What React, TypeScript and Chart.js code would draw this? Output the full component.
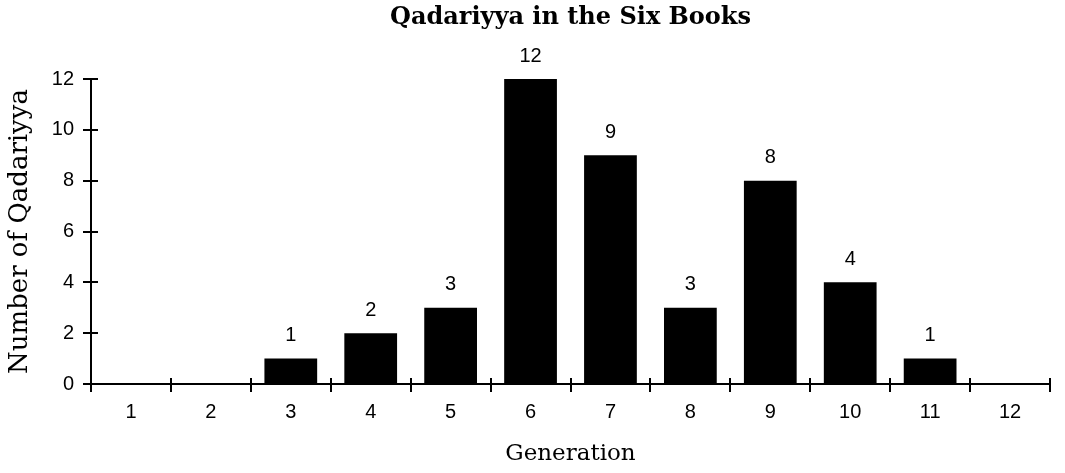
import { useEffect, useRef } from "react";
import { Chart, registerables } from "chart.js";

Chart.register(...registerables);

const generations = ["1", "2", "3", "4", "5", "6", "7", "8", "9", "10", "11", "12"];
const qadariyyaCounts = [0, 0, 1, 2, 3, 12, 9, 3, 8, 4, 1, 0];
const yMin = 0;
const yMax = 12;
const yStep = 2;
const chartTitle = "Qadariyya in the Six Books";
const xAxisTitle = "Generation";
const yAxisTitle = "Number of Qadariyya";

const SANS = "'Liberation Sans', Arial, Helvetica, sans-serif";
const SERIF = "'DejaVu Serif', 'Liberation Serif', serif";

const decorPlugin = {
  id: "decor",
  afterDraw(chart: any) {
    const ctx = chart.ctx;
    const ys = chart.scales.y;
    const area = chart.chartArea;
    ctx.save();
    ctx.strokeStyle = "#000";
    ctx.lineWidth = 2;
    // inward tick marks on y axis
    ys.ticks.forEach((t: any) => {
      const py = Math.round(ys.getPixelForValue(t.value));
      ctx.beginPath();
      ctx.moveTo(area.left, py);
      ctx.lineTo(area.left + 7, py);
      ctx.stroke();
    });
    // inward tick marks on x axis at category boundaries
    const n = generations.length;
    const w = (area.right - area.left) / n;
    for (let i = 0; i <= n; i++) {
      const px = Math.round(area.left + i * w);
      ctx.beginPath();
      ctx.moveTo(px, area.bottom);
      ctx.lineTo(px, area.bottom - 6);
      ctx.stroke();
    }
    // title centred over the plot area
    ctx.fillStyle = "#000";
    ctx.font = `bold 24px ${SERIF}`;
    ctx.textAlign = "center";
    ctx.textBaseline = "middle";
    ctx.fillText(chartTitle, (area.left + area.right) / 2, 18);
    // value labels
    const meta = chart.getDatasetMeta(0);
    ctx.font = `20px ${SANS}`;
    meta.data.forEach((bar: any, i: number) => {
      const v = qadariyyaCounts[i];
      if (!v) return;
      ctx.fillText(String(v), bar.x, bar.y - 23);
    });
    ctx.restore();
  },
};

export default function App() {
  const ref = useRef<HTMLCanvasElement>(null);
  useEffect(() => {
    if (!ref.current) return;
    const chart = new Chart(ref.current, {
      type: "bar",
      data: {
        labels: generations,
        datasets: [
          {
            data: qadariyyaCounts,
            backgroundColor: "#000",
            borderWidth: 0,
            barPercentage: 0.66,
            categoryPercentage: 1,
          },
        ],
      },
      options: {
        responsive: false,
        animation: false,
        layout: { padding: { left: 0, right: 15, top: 79, bottom: 0 } },
        plugins: {
          legend: { display: false },
          tooltip: { enabled: false },
          title: { display: false },
        },
        scales: {
          x: {
            offset: true,
            grid: {
              display: true,
              offset: true,
              drawOnChartArea: false,
              drawTicks: true,
              tickLength: 8,
              color: "#000",
              lineWidth: 2,
            },
            border: { display: true, color: "#000", width: 2 },
            ticks: {
              color: "#000",
              font: { family: SANS, size: 20 },
              padding: 8,
              maxRotation: 0,
            },
            title: {
              display: true,
              text: xAxisTitle,
              color: "#000",
              font: { family: SERIF, size: 23 },
              padding: { top: 0, bottom: 5 },
            },
            afterFit(scale: any) {
              scale.height = 89;
            },
          },
          y: {
            min: yMin,
            max: yMax,
            grid: {
              display: true,
              drawOnChartArea: false,
              drawTicks: true,
              tickLength: 8,
              color: "#000",
              lineWidth: 2,
            },
            border: { display: true, color: "#000", width: 2 },
            ticks: {
              stepSize: yStep,
              color: "#000",
              font: { family: SANS, size: 20 },
              padding: 9,
            },
            title: {
              display: true,
              text: yAxisTitle,
              color: "#000",
              font: { family: SERIF, size: 26 },
              padding: { top: 5, bottom: 0 },
            },
            afterFit(scale: any) {
              scale.width = 91;
            },
          },
        },
      },
      plugins: [decorPlugin],
    });
    return () => chart.destroy();
  }, []);
  return (
    <div style={{ position: "absolute", left: 0, top: 0, width: 1065, height: 473, background: "#fff" }}>
      <canvas ref={ref} width={1065} height={473} style={{ display: "block" }} />
    </div>
  );
}
